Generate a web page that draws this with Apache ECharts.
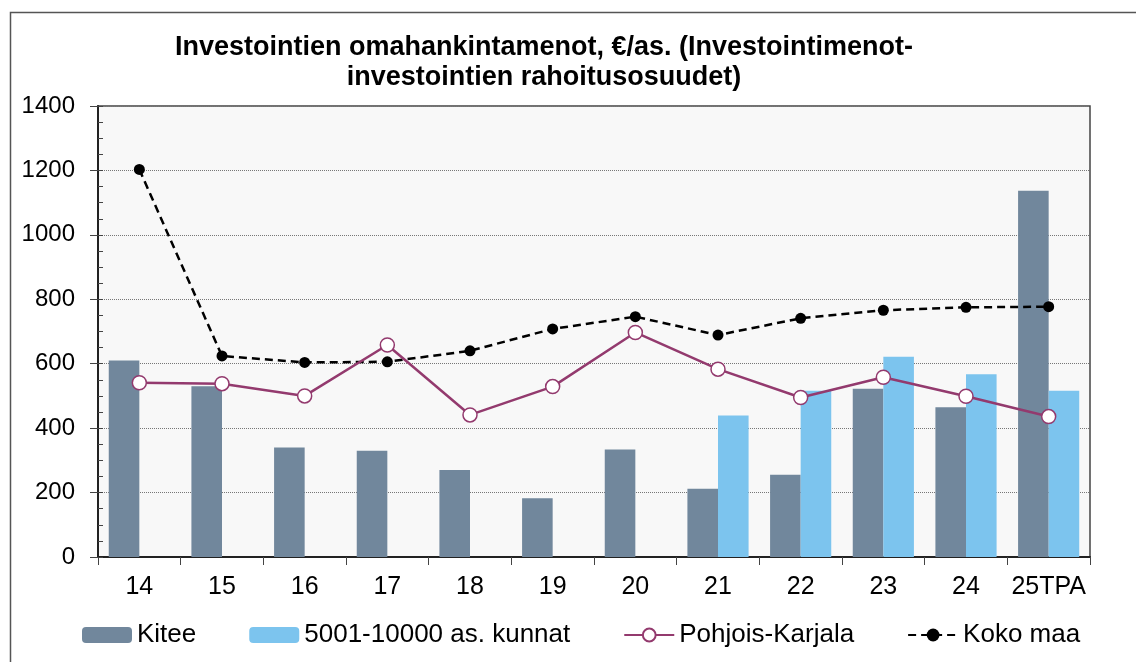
<!DOCTYPE html>
<html>
<head>
<meta charset="utf-8">
<title>Investointien omahankintamenot</title>
<script src="https://cdn.jsdelivr.net/npm/echarts@6/dist/echarts.min.js"></script>
<style>
  html, body { margin: 0; padding: 0; background: #fff; }
  #main { width: 1136px; height: 662px; }
</style>
</head>
<body>
<div id="main"></div>
<script>
// vuodet / x-akselin luokat
var years = ['14', '15', '16', '17', '18', '19', '20', '21', '22', '23', '24', '25TPA'];

// €/as., luettu kuvasta
var kitee = [610, 530, 340, 330, 270, 182, 334, 212, 255, 522, 465, 1137];
var kunnat5001 = [null, null, null, null, null, null, null, 439, 516, 622, 567, 516];
var pohjoisKarjala = [541, 538, 500, 658, 441, 529, 697, 583, 495, 558, 499, 436];
var kokoMaa = [1203, 624, 604, 606, 640, 708, 746, 689, 741, 766, 775, 777];

var fontFam = "'Liberation Sans', Arial, sans-serif";

var chart = echarts.init(document.getElementById('main'));

chart.setOption({
    animation: false,
    backgroundColor: '#ffffff',
    textStyle: { fontFamily: fontFam, color: '#000' },
    title: {
        text: 'Investointien omahankintamenot, €/as. (Investointimenot-\ninvestointien rahoitusosuudet)',
        left: 539,
        top: 28,
        textAlign: 'center',
        textStyle: {
            fontFamily: fontFam,
            fontSize: 27,
            fontWeight: 'bold',
            lineHeight: 30,
            color: '#000'
        }
    },
    // ulkokehys
    graphic: [{
        type: 'rect',
        left: 8,
        top: 10,
        shape: { width: 1200, height: 700 },
        style: { fill: 'none', stroke: '#555', lineWidth: 1.5 },
        silent: true,
        z: -10
    }],
    legend: {
        left: 77,
        top: 617,
        itemWidth: 50,
        itemHeight: 16,
        itemGap: 53,
        textStyle: { fontFamily: fontFam, fontSize: 26, color: '#000' },
        data: ['Kitee', '5001-10000 as. kunnat', 'Pohjois-Karjala', 'Koko maa']
    },
    grid: {
        left: 98,
        right: 46,
        top: 106,
        bottom: 105,
        show: true,
        backgroundColor: '#f8f8f8',
        borderColor: '#444',
        borderWidth: 1.5
    },
    xAxis: {
        type: 'category',
        data: years,
        axisLine: { lineStyle: { color: '#222', width: 2 } },
        axisTick: { show: true, interval: 0, length: 8, lineStyle: { color: '#444', width: 1 } },
        axisLabel: { interval: 0, fontFamily: fontFam, fontSize: 25, color: '#000', margin: 18 }
    },
    yAxis: [{
        type: 'value',
        min: 0,
        max: 1400,
        interval: 200,
        axisLine: { show: true, lineStyle: { color: '#222', width: 2 } },
        axisTick: { show: true, length: 8, lineStyle: { color: '#444' } },
        axisLabel: {
            fontFamily: fontFam, fontSize: 24, color: '#000', margin: 23,
            formatter: function (v) { return String(v); }
        },
        splitLine: { show: true, lineStyle: { color: '#777', type: 'dotted', width: 1 } }
    }, {
        // pienet sisäpuoliset jakoviivat 50 välein
        type: 'value',
        position: 'left',
        min: 0,
        max: 1400,
        interval: 50,
        axisLine: { show: false },
        axisTick: { show: true, inside: true, length: 5, lineStyle: { color: '#444' } },
        axisLabel: { show: false },
        splitLine: { show: false }
    }],
    series: [{
        name: 'Kitee',
        type: 'bar',
        data: kitee,
        barGap: '0%',
        barCategoryGap: '26%',
        itemStyle: { color: '#71879c' },
        z: 2
    }, {
        name: '5001-10000 as. kunnat',
        type: 'bar',
        data: kunnat5001,
        itemStyle: { color: '#7cc4ee' },
        z: 2
    }, {
        name: 'Koko maa',
        type: 'line',
        data: kokoMaa,
        symbol: 'circle',
        symbolSize: 11,
        itemStyle: { color: '#000' },
        lineStyle: { color: '#000', width: 2.5, type: [8, 5] },
        z: 4
    }, {
        name: 'Pohjois-Karjala',
        type: 'line',
        data: pohjoisKarjala,
        symbol: 'circle',
        symbolSize: 14,
        itemStyle: { color: '#fff', borderColor: '#933a6e', borderWidth: 1.5 },
        lineStyle: { color: '#933a6e', width: 2.5 },
        z: 5
    }]
});
</script>
</body>
</html>
